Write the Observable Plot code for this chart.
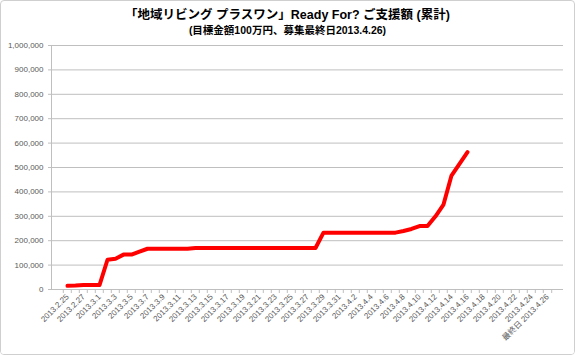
<!DOCTYPE html>
<html>
<head>
<meta charset="utf-8">
<script src="https://cdn.jsdelivr.net/npm/d3@7"></script>
<script src="https://cdn.jsdelivr.net/npm/@observablehq/plot@0.6"></script>
<style>
  html, body { margin: 0; padding: 0; background: #fff; }
  #wrap {
    box-sizing: border-box; width: 575px; height: 355px;
    border: 1px solid #cfcfcf; border-radius: 4px; overflow: hidden;
    font-family: "Liberation Sans", "Noto Sans CJK JP", sans-serif;
  }
  #title {
    padding-top: 6px; text-align: center; font-weight: bold; color: #000;
    font-family: "Liberation Sans", "Noto Sans CJK JP", sans-serif;
  }
  #t1 { font-size: 12.5px; line-height: 16px; height: 16px; }
  #t2 { font-size: 10.5px; line-height: 14px; height: 14px; }
  #chart svg { display: block; }
</style>
</head>
<body>
<div id="wrap">
  <div id="title">
    <div id="t1">「地域リビング プラスワン」Ready For? ご支援額 (累計)</div>
    <div id="t2">(目標金額100万円、募集最終日2013.4.26)</div>
  </div>
  <div id="chart"></div>
</div>
<script>
const dates = [
  "2013.2.25","2013.2.26","2013.2.27","2013.2.28",
  "2013.3.1","2013.3.2","2013.3.3","2013.3.4","2013.3.5","2013.3.6","2013.3.7","2013.3.8","2013.3.9","2013.3.10",
  "2013.3.11","2013.3.12","2013.3.13","2013.3.14","2013.3.15","2013.3.16","2013.3.17","2013.3.18","2013.3.19","2013.3.20",
  "2013.3.21","2013.3.22","2013.3.23","2013.3.24","2013.3.25","2013.3.26","2013.3.27","2013.3.28","2013.3.29","2013.3.30","2013.3.31",
  "2013.4.1","2013.4.2","2013.4.3","2013.4.4","2013.4.5","2013.4.6","2013.4.7","2013.4.8","2013.4.9","2013.4.10",
  "2013.4.11","2013.4.12","2013.4.13","2013.4.14","2013.4.15","2013.4.16","2013.4.17","2013.4.18","2013.4.19","2013.4.20",
  "2013.4.21","2013.4.22","2013.4.23","2013.4.24","2013.4.25","2013.4.26"
];
// cumulative support (yen), 2013.2.25 .. 2013.4.16
const amounts = [
  15000, 16000, 18000, 18000,
  18000, 122000, 126000, 143000, 143000, 155000, 167000, 167000, 167000, 167000,
  167000, 167000, 170000, 170000, 170000, 170000, 170000, 170000, 170000, 170000,
  170000, 170000, 170000, 170000, 170000, 170000, 170000, 170000, 233000, 233000, 233000,
  233000, 233000, 233000, 233000, 233000, 233000, 233000, 240000, 248000, 260000,
  260000, 300000, 348000, 467000, 515000, 563000
];
const yTicks = [0, 100000, 200000, 300000, 400000, 500000, 600000, 700000, 800000, 900000, 1000000];
const xLabelTicks = dates.filter((d, i) => i % 2 === 0);
const lastLabel = "最終日 2013.4.26";

const data = amounts.map((v, i) => ({date: dates[i], value: v}));

const W = 573, H = 317, ML = 50, MR = 11, MT = 8, MB = 65;
const step = (W - ML - MR) / dates.length;
const grid = "#bfbfbf";
const txt = "#595959";

const chart = Plot.plot({
  width: W, height: H,
  marginTop: MT, marginBottom: MB, marginLeft: ML, marginRight: MR,
  style: {fontFamily: "'Liberation Sans', 'Noto Sans CJK JP', sans-serif", fontSize: "8px", color: txt, background: "#fff"},
  x: {type: "point", domain: dates, padding: 0.5, align: 0.5, label: null},
  y: {domain: [0, 1000000], label: null},
  marks: [
    Plot.gridY(yTicks, {stroke: grid, strokeOpacity: 1, strokeWidth: 1}),
    Plot.ruleY([0], {stroke: grid, strokeWidth: 1}),
    Plot.frame({anchor: "left", stroke: grid, strokeWidth: 1}),
    Plot.axisY(yTicks, {tickFormat: d3.format(","), tickSize: 3, tickPadding: 5, stroke: grid, fill: txt}),
    Plot.axisX(dates, {tickSize: 4, tickFormat: () => "", dx: -step / 2, stroke: grid}),
    Plot.axisX([dates[dates.length - 1]], {tickSize: 4, tickFormat: () => "", dx: step / 2, stroke: grid}),
    Plot.axisX(xLabelTicks, {tickSize: 0, tickRotate: -45, tickPadding: 6, fill: txt,
      tickFormat: d => d === "2013.4.26" ? lastLabel : d}),
    Plot.line(data, {x: "date", y: "value", stroke: "#ff0000", strokeWidth: 4, strokeLinejoin: "round", strokeLinecap: "round"})
  ]
});
document.getElementById("chart").appendChild(chart);
</script>
</body>
</html>
